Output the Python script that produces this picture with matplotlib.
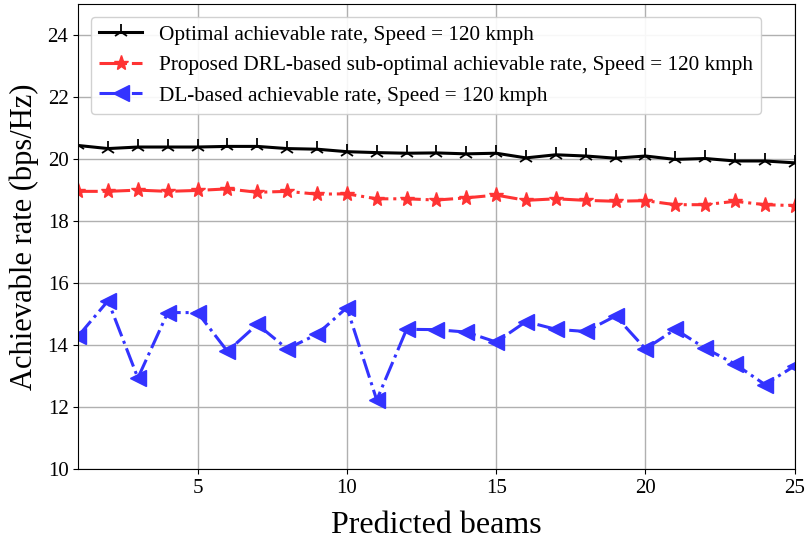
import matplotlib
matplotlib.use('Agg')
import matplotlib.pyplot as plt

plt.rcParams['font.family'] = ['Liberation Serif', 'DejaVu Serif']
plt.rcParams['mathtext.fontset'] = 'stix'

# 数据
beams = list(range(1, 26))
optimal = [20.43, 20.33, 20.38, 20.38, 20.38, 20.40, 20.40, 20.33, 20.31, 20.23,
           20.20, 20.18, 20.19, 20.16, 20.18, 20.03, 20.13, 20.09, 20.02, 20.09,
           19.98, 20.01, 19.93, 19.93, 19.87]
drl = [18.95, 18.95, 18.99, 18.95, 18.98, 19.03, 18.92, 18.95, 18.86, 18.87,
       18.71, 18.71, 18.67, 18.74, 18.83, 18.66, 18.71, 18.66, 18.63, 18.65,
       18.52, 18.52, 18.63, 18.52, 18.49]
dl = [14.28, 15.42, 12.93, 15.04, 15.04, 13.79, 14.66, 13.87, 14.34, 15.20,
      12.22, 14.50, 14.49, 14.41, 14.09, 14.75, 14.50, 14.43, 14.93, 13.87,
      14.50, 13.89, 13.38, 12.72, 13.32]

labels = ['Optimal achievable rate, Speed = 120 kmph',
          'Proposed DRL-based sub-optimal achievable rate, Speed = 120 kmph',
          'DL-based achievable rate, Speed = 120 kmph']

fig, ax = plt.subplots(figsize=(8.06, 5.42), dpi=100)
ax.plot(beams, optimal, color='black', linestyle='-', linewidth=2.2,
        marker='2', markersize=11, markeredgewidth=1.3, label=labels[0])
ax.plot(beams, drl, color='#ff3333', linestyle='-.', linewidth=2.2,
        marker='*', markersize=11, label=labels[1])
ax.plot(beams, dl, color='#3333ff', linestyle='-.', linewidth=2.2,
        marker='<', markersize=11, label=labels[2])

ax.set_xlim(1, 25)
ax.set_ylim(10, 25)
ax.set_xticks([5, 10, 15, 20, 25])
ax.set_yticks(range(10, 25, 2))
ax.tick_params(labelsize=15, direction='out')
ax.set_xlabel('Predicted beams', fontsize=23, labelpad=10)
ax.set_ylabel('Achievable rate (bps/Hz)', fontsize=22, labelpad=6)
ax.grid(True, color='#b0b0b0', linewidth=1)
ax.legend(loc='upper left', fontsize=15.3, framealpha=0.9,
          handlelength=2.0, borderaxespad=0.6)

plt.subplots_adjust(left=0.097, right=0.986, top=0.993, bottom=0.135)
plt.savefig('out.png', dpi=100)
